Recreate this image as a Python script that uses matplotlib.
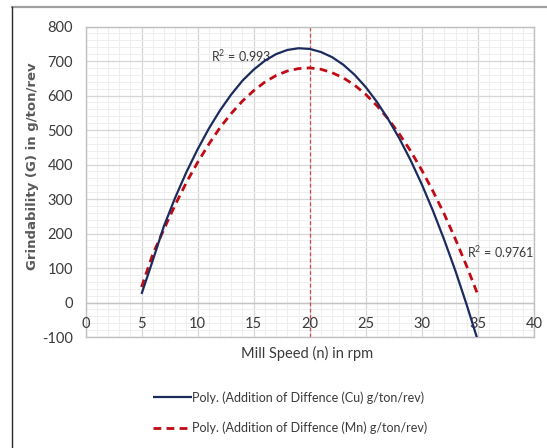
import matplotlib
matplotlib.use("Agg")
import matplotlib.pyplot as plt
from matplotlib.lines import Line2D
from matplotlib.ticker import MultipleLocator

# ---- data ----
speed_rpm = [5, 6, 7, 8, 9, 10, 11, 12, 13, 14, 15, 16, 17, 18, 19, 20,
             21, 22, 23, 24, 25, 26, 27, 28, 29, 30, 31, 32, 33, 34, 35]
cu_values = [25, 122, 222, 304, 378, 444, 504, 557, 603, 643, 675, 701, 720, 732, 737, 735,
             726, 711, 689, 660, 624, 581, 531, 475, 412, 342, 265, 181, 91, -7, -111]
mn_values = [45, 140, 213, 283, 348, 406, 459, 507, 548, 584, 614, 639, 658, 671, 678, 680,
             676, 666, 651, 630, 603, 570, 532, 488, 439, 383, 322, 256, 183, 105, 22]
cu_label = "Poly. (Addition of Diffence (Cu) g/ton/rev)"
mn_label = "Poly. (Addition of Diffence (Mn) g/ton/rev)"
cu_r2 = "R$^2$ = 0.993"
mn_r2 = "R$^2$ = 0.9761"
optimum_speed = 20
x_ticks = [0, 5, 10, 15, 20, 25, 30, 35, 40]
y_ticks = [-100, 0, 100, 200, 300, 400, 500, 600, 700, 800]

FONT = ["Lato", "DejaVu Sans"]
TXT = "#3a3a3a"
plt.rcParams["mathtext.fontset"] = "custom"
plt.rcParams["mathtext.rm"] = "Lato"

W, H = 547, 448
fig = plt.figure(figsize=(W / 100, H / 100), dpi=100)
fig.patch.set_facecolor("white")

L, R, T, B = 85.5, 534, 26.5, 337
ax = fig.add_axes([L / W, 1 - B / H, (R - L) / W, (B - T) / H])
ax.set_xlim(0, 40)
ax.set_ylim(-100, 800)

ax.xaxis.set_major_locator(MultipleLocator(5))
ax.xaxis.set_minor_locator(MultipleLocator(1))
ax.yaxis.set_major_locator(MultipleLocator(100))
ax.yaxis.set_minor_locator(MultipleLocator(20))
ax.grid(which="minor", color="#eeeeee", lw=0.7)
ax.grid(which="major", color="#d6d6d6", lw=0.9)
ax.set_axisbelow(True)
ax.axhline(0, color="#c4c4c4", lw=1.0, zorder=1)
for s in ax.spines.values():
    s.set_color("#c0c0c0")
    s.set_linewidth(1.0)
ax.tick_params(which="both", length=0)

ax.set_yticks(y_ticks)
ax.set_yticklabels([str(v) for v in y_ticks], family=FONT, fontsize=10.5, color=TXT)
ax.tick_params(axis="y", pad=9)
ax.set_xticks(x_ticks)
ax.set_xticklabels([])
for xv in x_ticks:
    ax.annotate(str(xv), (xv, 0), xytext=(0, -10.5), textcoords="offset points",
                ha="center", va="top", family=FONT, fontsize=10.5, color=TXT)

# vertical reference line at optimum speed
ax.axvline(optimum_speed, color="#d04a4a", lw=0.9, ls=(0, (3, 2)), zorder=2)

ax.plot(speed_rpm, cu_values, color="#1c2b5e", lw=1.6, zorder=4, label=cu_label,
        solid_capstyle="butt")
ax.plot(speed_rpm, mn_values, color="#c00a14", lw=2.0, ls=(0, (2.8, 1.9)), zorder=3,
        label=mn_label)

ax.text(11.2, 713, cu_r2, family=FONT, fontsize=9, color=TXT, ha="left", va="center")
ax.text(34.05, 145, mn_r2, family=FONT, fontsize=9, color=TXT, ha="left", va="center")

fig.text(307 / W, 1 - 353 / H, "Mill Speed (n) in rpm", family=FONT, fontsize=10.5,
         color=TXT, ha="center", va="center")
fig.text(33 / W, 1 - 166 / H, "Grindability (G) in g/ton/rev", family=["DejaVu Sans"],
         fontsize=9.5, fontweight="bold", color="#595959", rotation=90,
         ha="center", va="center")

leg = ax.legend(loc="upper left", bbox_to_anchor=(153 / W, 1 - 391 / H),
                bbox_transform=fig.transFigure, frameon=False,
                prop={"family": FONT, "size": 9}, handlelength=3.1,
                handletextpad=0.0, labelspacing=1.45, borderpad=0, borderaxespad=0)
for t in leg.get_texts():
    t.set_color(TXT)

# outer chart frame (partially visible)
fig.add_artist(Line2D([12 / W, 1], [1 - 7 / H, 1 - 7 / H], transform=fig.transFigure,
                      color="#a0a0a0", lw=1.6))
fig.add_artist(Line2D([12 / W, 12 / W], [0, 1 - 7 / H], transform=fig.transFigure,
                      color="#2a2a2a", lw=1.0))

fig.savefig("out.png", dpi=100)
